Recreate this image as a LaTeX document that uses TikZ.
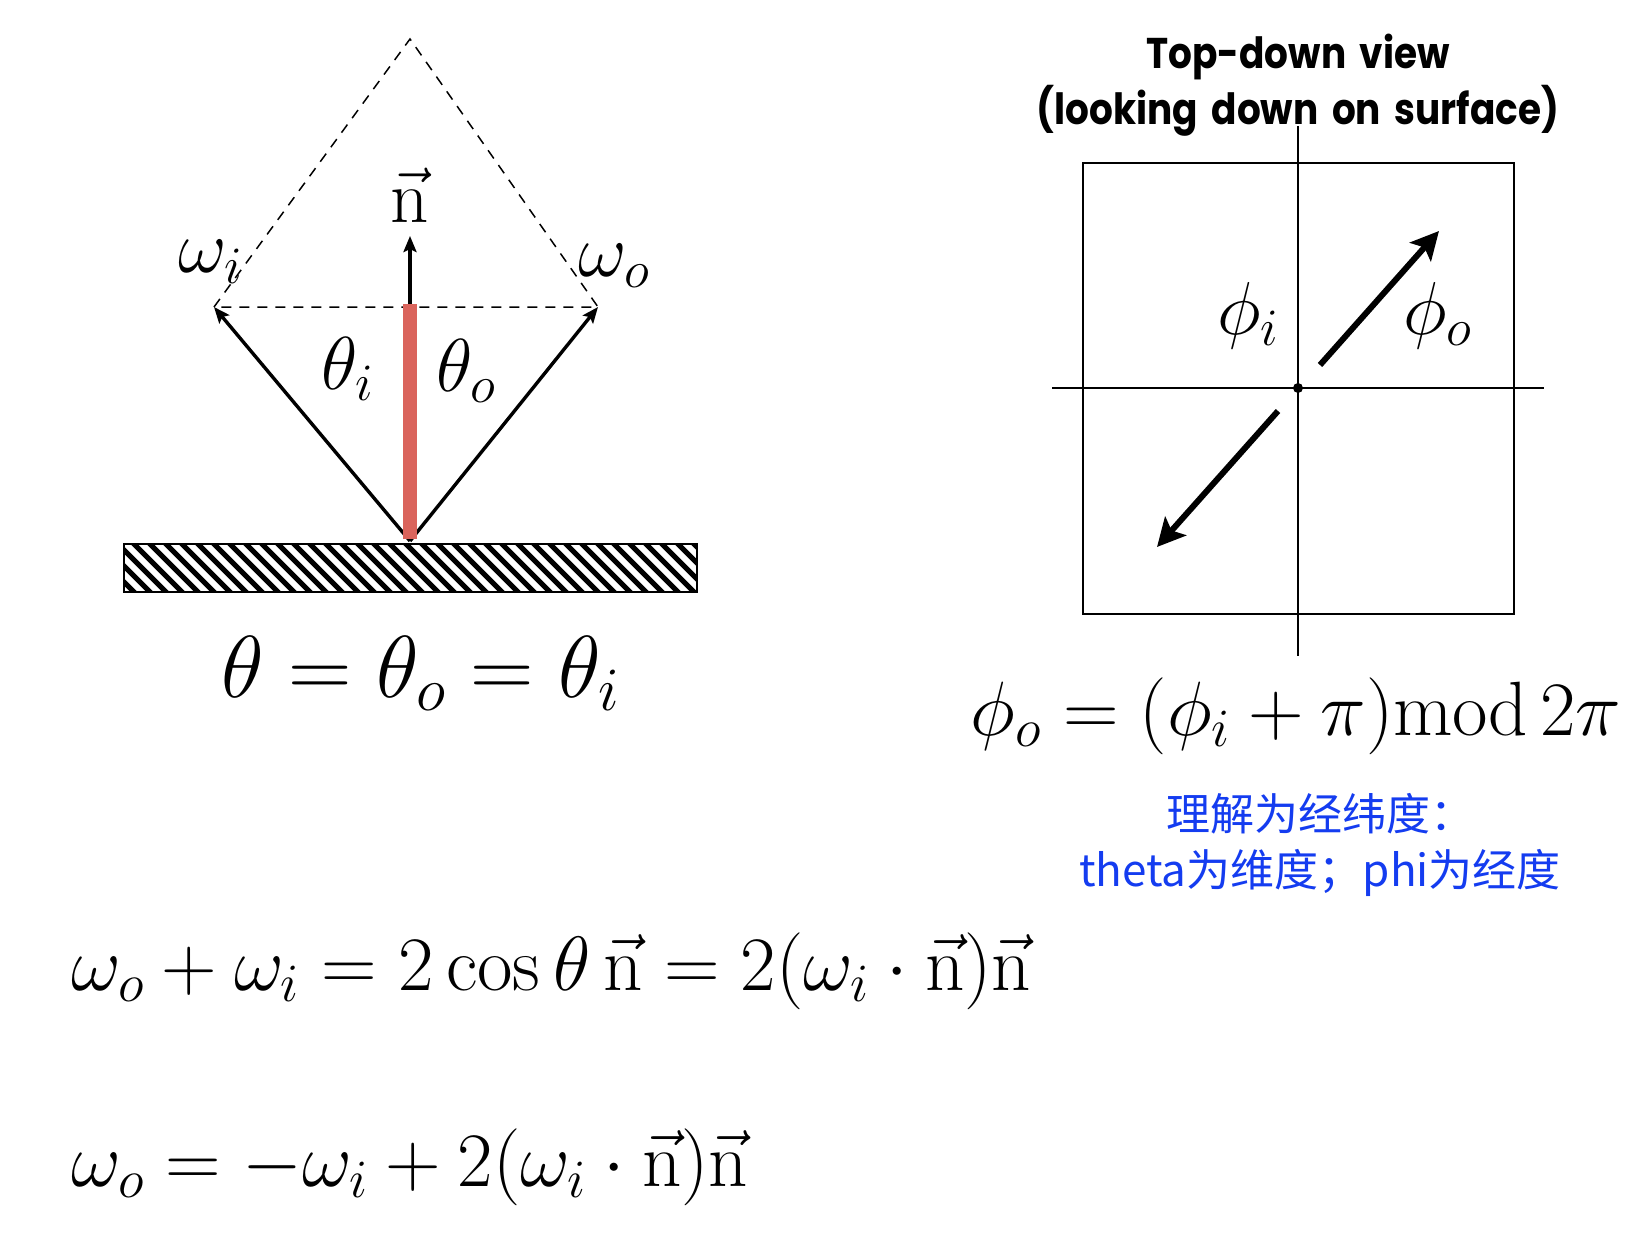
\documentclass[tikz,border=0pt]{standalone}
\usepackage{fix-cm}
\usepackage{fontspec}
\newfontfamily\titlefont[FakeStretch=0.87,WordSpace=1.7]{Poppins}
\newfontfamily\cjk{Noto Sans CJK SC}
\usetikzlibrary{arrows.meta}
\definecolor{barred}{RGB}{218,100,92}
\definecolor{noteblue}{RGB}{20,60,240}
\newcommand{\nvec}{\vec{\mathrm{n}}}
\begin{document}
\begin{tikzpicture}[x=0.5pt,y=-0.5pt,
    vec/.style={line width=1.7pt,-{Stealth[length=8pt,width=6.5pt,inset=1.5pt]}},
    bigvec/.style={line width=3pt,-{Stealth[length=14pt,width=14pt,inset=3pt]}},
    guide/.style={line width=0.75pt,dash pattern=on 5pt off 4pt},
    axis/.style={line width=1pt},
    lbl/.style={font=\fontsize{37.5}{44}\selectfont,anchor=base},
    eqn/.style={font=\fontsize{38.5}{46}\selectfont}]
  \useasboundingbox (0,0) rectangle (1646,1242);
  % side view of the surface
  \coordinate (base) at (410,541);
  \coordinate (wi) at (214,307);
  \coordinate (wo) at (598,307);
  \coordinate (apex) at (410,39);
  \coordinate (ntop) at (410,304);
  \coordinate (ntip) at (410,236);
  \draw[guide] (wi) -- (apex) -- (wo) -- cycle;
  \begin{scope}
    \clip (124,544) rectangle (697,592);
    \foreach \x in {40,56,...,700}
      \draw[line width=2.6pt] (\x,530) -- (\x+75,605);
  \end{scope}
  \draw[line width=1.1pt] (124,544) rectangle (697,592);
  \draw[vec] (base) -- (wi);
  \draw[vec] (base) -- (wo);
  \draw[barred,line width=7pt] (410,539) -- (ntop);
  \draw[vec] (ntop) -- (ntip);
  \node[lbl] (nlab) at (410,222) {$\nvec$};
  \node[lbl] (wilab) at (211,272) {$\omega_i$};
  \node[lbl] (wolab) at (614,276) {$\omega_o$};
  \node[lbl] (tilab) at (348,389) {$\theta_i$};
  \node[lbl] (tolab) at (466,391) {$\theta_o$};
  \node[eqn,font=\fontsize{44}{50}\selectfont,anchor=base] (eqtheta) at (421,697) {$\theta=\theta_o=\theta_i$};
  % top-down view
  \node[font=\titlefont\bfseries\fontsize{21.5}{28}\selectfont,align=center,anchor=base] (title) at (1298,124) {Top-down view\\(looking down on surface)};
  \coordinate (o) at (1298,388);
  \coordinate (otail) at (1320,365);
  \coordinate (otip) at (1439,231);
  \coordinate (itail) at (1278,411);
  \coordinate (itip) at (1157,547);
  \draw[axis] (1083,163) rectangle (1514,614);
  \draw[axis] (1298,126) -- (1298,656);
  \draw[axis] (1052,388) -- (1544,388);
  \fill (o) circle (2.5pt);
  \draw[bigvec] (otail) -- (otip);
  \draw[bigvec] (itail) -- (itip);
  \node[lbl] (pilab) at (1248,334) {$\phi_i$};
  \node[lbl] (polab) at (1438,334) {$\phi_o$};
  \node[eqn,font=\fontsize{38.5}{46}\selectfont,anchor=base] (eqphi) at (1296,735) {$\phi_o=(\phi_i+\pi)\mathrm{mod}\,2\pi$};
  \node[font=\cjk\fontsize{22}{28}\selectfont,text=noteblue,align=center] (note) at (1320,845) {理解为经纬度：\\theta为维度；phi为经度};
  % reflection formulas
  \node[eqn,anchor=base west] (eqsum) at (64,990) {$\omega_o+\omega_i=2\cos\theta\,\nvec=2(\omega_i\cdot\nvec)\nvec$};
  \node[eqn,anchor=base west] (eqout) at (64,1186) {$\omega_o=-\omega_i+2(\omega_i\cdot\nvec)\nvec$};
\end{tikzpicture}
\end{document}
